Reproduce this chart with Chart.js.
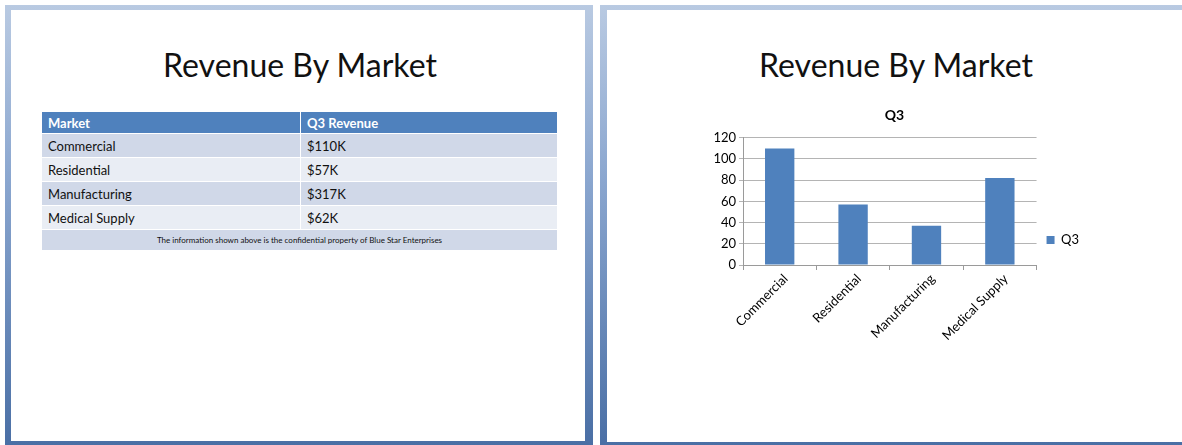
<!DOCTYPE html>
<html>
<head>
<meta charset="utf-8">
<title>Revenue By Market</title>
<script src="https://cdn.jsdelivr.net/npm/chart.js@4.4.1/dist/chart.umd.min.js"></script>
<style>
body { margin:0; width:1182px; height:445px; overflow:hidden; background:#fff; font-family:Lato, "Liberation Sans", sans-serif; }
.frame { position:absolute; background:linear-gradient(#b9cae2, #8aa6cf 40%, #4a6fa5); }
.inner { position:absolute; background:#fff; }
.title { position:absolute; font-size:32px; line-height:40px; color:#111; text-align:center; white-space:nowrap; }
table { position:absolute; left:41px; top:111px; width:517px; border-collapse:collapse; font-size:13px; color:#111; }
td { border:1px solid #fff; padding:0 6px; height:23px; }
tr.head td { background:#4f81bd; color:#fff; font-weight:bold; height:21px; }
tr.odd td { background:#d0d8e8; }
tr.even td { background:#e9edf4; }
tr.note td { background:#d0d8e8; font-size:8px; text-align:center; height:20px; }
#chartBox { position:absolute; left:700px; top:104px; width:389px; height:272px; }
</style>
</head>
<body>

<!-- left slide -->
<div class="frame" style="left:5px; top:5px; width:588px; height:440px;"></div>
<div class="inner" style="left:11px; top:10px; width:574px; height:431px;"></div>
<div class="title" style="left:11px; top:45px; width:578px;">Revenue By Market</div>
<table id="revTable"></table>

<!-- right slide -->
<div class="frame" style="left:600px; top:5px; width:600px; height:440px;"></div>
<div class="inner" style="left:607px; top:10px; width:580px; height:432px;"></div>
<div class="title" style="left:607px; top:45px; width:578px;">Revenue By Market</div>
<div id="chartBox"><canvas id="myChart"></canvas></div>

<script>
// table data
const TableHeader = ['Market', 'Q3 Revenue'];
const TableMarkets = ['Commercial', 'Residential', 'Manufacturing', 'Medical Supply'];
const TableRevenue = ['$110K', '$57K', '$317K', '$62K'];
const TableNote = 'The information  shown  above  is the confidential  property of Blue Star Enterprises';

// chart data (as drawn on the chart, not the table)
const ChartLabels = ['Commercial', 'Residential', 'Manufacturing', 'Medical Supply'];
const ChartQ3 = [110, 57, 37, 82];
const YTicks = [0, 20, 40, 60, 80, 100, 120];

window.onload = function() {
	buildTable();
	createGraph();
} //end window.onload

function buildTable(){
	var t = document.getElementById('revTable');
	var html = '<tr class="head"><td style="width:246px">' + TableHeader[0] + '</td><td>' + TableHeader[1] + '</td></tr>';
	for (var i = 0; i < TableMarkets.length; i++) {
		html += '<tr class="' + (i % 2 == 0 ? 'odd' : 'even') + '"><td>' + TableMarkets[i] + '</td><td>' + TableRevenue[i] + '</td></tr>';
	}//end for i
	html += '<tr class="note"><td colspan="2">' + TableNote + '</td></tr>';
	t.innerHTML = html;
}//end buildTable

function createGraph(){
	var ctx = document.getElementById('myChart').getContext('2d');
	var myChart = new Chart(ctx, {
		type: 'bar',
		data: {
			labels: ChartLabels,
			datasets: [{
				label: 'Q3',
				data: ChartQ3,
				backgroundColor: '#4f81bd',
				borderWidth: 0,
				categoryPercentage: 1,
				barPercentage: 0.4
			}]
		},
		options: {
			responsive: true,
			maintainAspectRatio: false,
			animation: false,
			layout: { padding: 0 },
			font: { family: 'Lato' },
			plugins: {
				title: {
					display: true,
					text: 'Q3',
					color: '#000',
					font: { family: 'Lato', size: 14, weight: 'bold' },
					padding: { top: 3, bottom: 14 }
				},
				legend: {
					position: 'right',
					labels: {
						boxWidth: 8,
						boxHeight: 8,
						color: '#000',
						padding: 10,
						font: { family: 'Lato', size: 13 }
					}
				},
				tooltip: { enabled: false }
			},
			scales: {
				x: {
					grid: { offset: true, drawOnChartArea: false, drawTicks: true, tickLength: 5, color: '#9a9a9a' },
					border: { color: '#9a9a9a' },
					ticks: {
						color: '#000',
						font: { family: 'Lato', size: 13 },
						minRotation: 45,
						maxRotation: 45,
						labelOffset: 6,
						padding: 1
					},
					afterFit: function(scale) { scale.height = 111; }
				},
				y: {
					min: 0,
					max: YTicks[YTicks.length - 1],
					afterBuildTicks: function(scale) {
						scale.ticks = YTicks.map(function(v) { return { value: v }; });
					},
					grid: { color: '#b4b4b4', tickLength: 4 },
					border: { color: '#9a9a9a' },
					ticks: {
						color: '#000',
						font: { family: 'Lato', size: 13 },
						padding: 3
					},
					afterFit: function(scale) { scale.width = 43; }
				}
			}
		}
	});
}//end createGraph
</script>
</body>
</html>
